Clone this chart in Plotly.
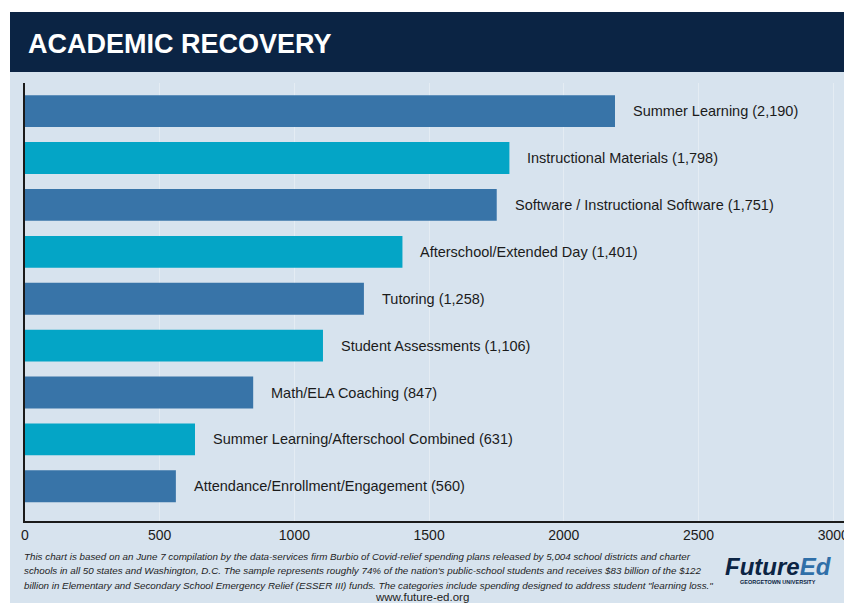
import plotly.graph_objects as go

# Data
categories = [
    "Summer Learning",
    "Instructional Materials",
    "Software / Instructional Software",
    "Afterschool/Extended Day",
    "Tutoring",
    "Student Assessments",
    "Math/ELA Coaching",
    "Summer Learning/Afterschool Combined",
    "Attendance/Enrollment/Engagement",
]
counts = [2190, 1798, 1751, 1401, 1258, 1106, 847, 631, 560]
tick_values = [0, 500, 1000, 1500, 2000, 2500, 3000]

footnote_lines = [
    "This chart is based on an June 7 compilation by the data-services firm Burbio of Covid-relief spending plans released by 5,004 school districts and charter",
    "schools in all 50 states and Washington, D.C. The sample represents roughly 74% of the nation's public-school students and receives $83 billion of the $122",
    "billion in Elementary and Secondary School Emergency Relief (ESSER III) funds. The categories include spending designed to address student \"learning loss.\"",
]

DARK_BAR = "#3874a8"
LIGHT_BAR = "#04a5c6"
NAVY = "#0b2444"
BG = "#d7e3ee"
FONT = "Liberation Sans, Arial, sans-serif"

W, H = 844, 603
L, R, T, B = 25, 0, 83, 82


def px_x(p):
    return (p - L) / (W - L - R)


def px_y(p):
    return (H - B - p) / (H - T - B)


bar_colors = [DARK_BAR if i % 2 == 0 else LIGHT_BAR for i in range(len(categories))]
labels = [f"{c} ({v:,})" for c, v in zip(categories, counts)]

fig = go.Figure()
fig.add_trace(go.Bar(
    x=counts, y=categories, orientation="h",
    marker=dict(color=bar_colors, line_width=0),
    width=0.68, hoverinfo="skip", showlegend=False,
))

# value labels to the right of each bar
for c, v, lab in zip(categories, counts, labels):
    fig.add_annotation(x=v, y=c, text=lab, showarrow=False, xanchor="left",
                       xshift=16, font=dict(size=14.5, color="#1b1b1b", family=FONT))

# white margin on the left, navy header band
fig.add_shape(type="rect", xref="paper", yref="paper", layer="below",
              x0=px_x(0), x1=px_x(10), y0=px_y(H), y1=px_y(0),
              fillcolor="white", line_width=0)
fig.add_shape(type="rect", xref="paper", yref="paper", layer="below",
              x0=px_x(10), x1=px_x(W), y0=px_y(12), y1=px_y(0),
              fillcolor="white", line_width=0)
fig.add_shape(type="rect", xref="paper", yref="paper", layer="below",
              x0=px_x(10), x1=px_x(W), y0=px_y(72), y1=px_y(12),
              fillcolor=NAVY, line_width=0)

fig.add_annotation(xref="paper", yref="paper", x=px_x(26), y=px_y(44),
                   xanchor="left", yanchor="middle", showarrow=False,
                   text="<b>ACADEMIC RECOVERY</b>",
                   font=dict(size=27, color="white", family=FONT))

for i, line in enumerate(footnote_lines):
    fig.add_annotation(xref="paper", yref="paper", x=px_x(22), y=px_y(556 + 14.5 * i),
                       xanchor="left", yanchor="middle", showarrow=False,
                       text=f"<i>{line}</i>",
                       font=dict(size=9.8, color="#1e1e1e", family=FONT))

fig.add_annotation(xref="paper", yref="paper", x=px_x(422), y=px_y(597),
                   xanchor="center", yanchor="middle", showarrow=False,
                   text="www.future-ed.org",
                   font=dict(size=11.5, color="#222222", family=FONT))

# FutureEd logo
fig.add_annotation(xref="paper", yref="paper", x=px_x(778), y=px_y(566),
                   xanchor="center", yanchor="middle", showarrow=False,
                   text="<b><i><span style='color:#0b2444'>Future</span><span style='color:#2f6fa8'>Ed</span></i></b>",
                   font=dict(size=24, family=FONT))
fig.add_annotation(xref="paper", yref="paper", x=px_x(778), y=px_y(582),
                   xanchor="center", yanchor="middle", showarrow=False,
                   text="<b>GEORGETOWN UNIVERSITY</b>",
                   font=dict(size=5.5, color="#0b2444", family=FONT))

fig.update_xaxes(range=[0, 3040], tickvals=tick_values, ticks="",
                 ticklabeloverflow="allow", automargin=False,
                 showgrid=True, gridcolor="#e4ecf3", gridwidth=1,
                 showline=True, linecolor="#1a1a1a", linewidth=1.5, zeroline=False,
                 tickfont=dict(size=14, color="#1b1b1b", family=FONT))
fig.update_yaxes(range=[8.74, -0.6], showticklabels=False, ticks="",
                 automargin=False,
                 showgrid=False, showline=True, linecolor="#1a1a1a", linewidth=1.5)

fig.update_layout(
    width=W, height=H,
    margin=dict(l=L, r=R, t=T, b=B),
    paper_bgcolor=BG, plot_bgcolor=BG,
    bargap=0.32,
)

fig.write_html("out.html", config={"displayModeBar": False},
               post_script="document.body.style.margin='0';document.body.style.overflow='hidden';")
